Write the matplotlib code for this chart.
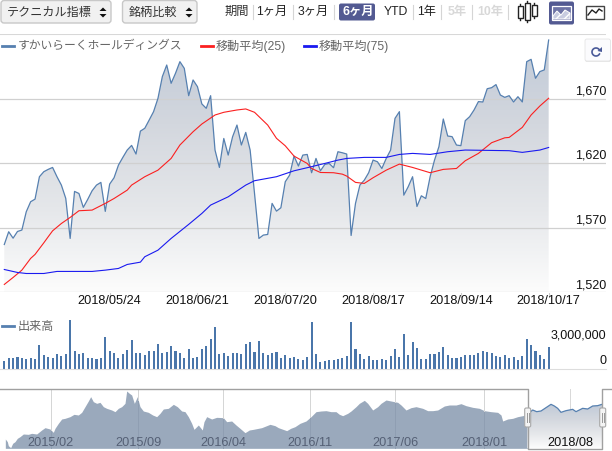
import numpy as np
import matplotlib
matplotlib.use('Agg')
import matplotlib.pyplot as plt
from matplotlib.patches import FancyBboxPatch, Polygon, Rectangle

plt.rcParams['font.family'] = ['Liberation Sans', 'Noto Sans CJK JP', 'DejaVu Sans']

W, H = 612, 451

# daily close
price = [1557.1, 1567, 1562, 1567.2, 1568.3, 1582.5, 1590.3, 1592.3, 1609.7, 1613.6,
         1615.4, 1616.9, 1609.7, 1603.2, 1592.9, 1561.8, 1598.3, 1596.7, 1585.9, 1592.1,
         1598.8, 1603.2, 1605.3, 1582.8, 1604, 1608.9, 1618.7, 1624.7, 1630.4, 1634,
         1627.3, 1645.1, 1647.3, 1653.7, 1660.2, 1670.5, 1687.4, 1696.4, 1682.2, 1690,
         1699, 1693.8, 1672.6, 1684.8, 1679.6, 1666.2, 1662.8, 1672.6, 1630.4, 1616.9,
         1639.4, 1626.5, 1640.7, 1649.8, 1634.3, 1644.1, 1630.4, 1596.7, 1561.8, 1564.4,
         1564.9, 1589, 1583, 1585.6, 1605.8, 1611, 1625.7, 1618, 1626.5,
         1627, 1612.8, 1623.9, 1614.3, 1619.2, 1620, 1616.7, 1629.1, 1628.3, 1627.3,
         1564.1, 1589, 1603.2, 1607, 1612.8, 1622.6, 1621.3, 1616.1, 1623.9, 1630.4,
         1655, 1660.2, 1595.4, 1601.9, 1609.7, 1586.6, 1594.9, 1592.8, 1609.7, 1622.6,
         1633, 1654.5, 1641.3, 1640.8, 1634.3, 1633.8, 1653.2, 1656.3, 1661.5, 1668,
         1667.7, 1678, 1678.8, 1681.2, 1673.1, 1671.3, 1672.6, 1667.7, 1671.8, 1667.7,
         1699, 1700.8, 1686.1, 1691.3, 1692.6, 1715.8]

ma25_idx = [0, 2, 4, 6, 7, 9, 10, 11, 13, 15, 17, 20, 23, 25, 28, 29, 32, 35, 38, 40, 43, 45, 48, 50,
            53, 55, 57, 60, 62, 64, 66, 69, 70, 72, 75, 77, 78, 80, 82, 84, 87, 90, 93, 97, 100, 103,
            105, 108, 111, 114, 115, 118, 120, 122, 124]
ma25 = [1526.1, 1531.5, 1537.2, 1546.3, 1549.4, 1558.4, 1563.1, 1567.7, 1573.4, 1578.1, 1583.3, 1583.8,
        1589, 1592.8, 1599.3, 1603.2, 1609.7, 1614.8, 1623.9, 1634.3, 1644.6, 1650.6, 1657.6, 1659.7,
        1661.5, 1662.3, 1659.7, 1649.8, 1639.5, 1633.7, 1625.7, 1620, 1616.1, 1613, 1612.8, 1611.7,
        1610.2, 1605.3, 1604.5, 1608.9, 1614.8, 1619.5, 1616.9, 1612.8, 1615.4, 1616.1,
        1622.1, 1627.8, 1636.1, 1639.9, 1640.2, 1648, 1657.6, 1664.6, 1670.6]

ma75_idx = [0, 3, 5, 9, 12, 20, 23, 26, 28, 31, 32, 35, 38, 42, 45, 47, 51, 55, 57, 62, 66, 69,
            73, 76, 78, 82, 87, 90, 93, 97, 101, 105, 115, 118, 122, 124]
ma75 = [1537.7, 1535.4, 1534.6, 1534.6, 1536.2, 1536.2, 1537.2, 1538.5, 1541.6, 1543.4, 1547.6, 1552.7,
        1561.8, 1572.7, 1581.2, 1587.7, 1594.1, 1603.2, 1606.6, 1609.7, 1614.3, 1616.7,
        1620, 1622.6, 1623.9, 1624.7, 1624.7, 1627, 1627.8, 1627, 1629.1, 1630.4, 1629.9, 1628.6, 1630.4, 1632.4]

# volume in thousands of shares
volume = [900, 1240, 1240, 1350, 1200, 1125, 1240, 1125, 2700, 1575,
          1350, 1240, 1690, 1460, 1690, 5510, 2025, 1690, 1800, 1240,
          1240, 1125, 1240, 3600, 2025, 1800, 1240, 1690, 2140, 3260,
          1800, 1800, 1575, 2025, 2025, 2810, 1800, 1910, 2590, 2025,
          1800, 1240, 2250, 1240, 1350, 2250, 2590, 3375, 4725, 1690,
          1800, 1460, 1800, 1800, 1690, 2810, 3040, 1910, 3150, 1800,
          1575, 1800, 1910, 1240, 1575, 1240, 1350, 1125, 1010,
          1350, 5290, 1690, 790, 900, 1010, 1010, 1125, 1240, 1460,
          5290, 2250, 1690, 1125, 1460, 1010, 1010, 1125, 1010, 1460,
          2250, 1350, 3940, 1575, 3040, 2360, 1125, 1125, 1690, 1690,
          1910, 2475, 1575, 1240, 1240, 1350, 1575, 1575, 1575, 1800,
          2025, 1910, 1800, 1460, 1350, 1575, 1240, 1350, 1010, 1460,
          3375, 2700, 2025, 1575, 1125, 2475]

date_labels = ['2018/05/24', '2018/06/21', '2018/07/20', '2018/08/17', '2018/09/14', '2018/10/17']
date_idx = [24, 44, 64, 84, 104, 124]
price_ticks = [1520, 1570, 1620, 1670]

# long history for the navigator, sample position and height
nav_pos = [16, 22, 25, 32, 38, 45, 52, 60, 70, 85, 95, 110, 125, 135, 150, 160, 165, 175, 185, 195, 210, 222,
           235, 245, 255, 265, 272, 280, 290, 300, 310, 320, 335, 345, 355, 365, 375, 380, 388, 395, 403, 412,
           420, 430, 445, 458, 470, 480, 490, 505, 520, 532, 545, 555, 565, 575, 582, 595, 607, 612, 620, 635,
           650, 670, 680, 695, 708, 720, 735, 748, 760, 785, 810, 825, 835, 860, 872, 885, 900, 918,
           933, 948, 963, 978, 993, 1008, 1018, 1028, 1043, 1053, 1068, 1078, 1093, 1103, 1118, 1133, 1143,
           1158, 1173, 1193, 1203, 1218, 1233, 1248, 1268, 1283, 1298, 1313, 1333, 1348, 1368, 1383, 1398,
           1418, 1438, 1453, 1473, 1493, 1503, 1508, 1523, 1538, 1553, 1568, 1582,
           1598, 1610, 1623, 1638, 1653, 1663, 1673, 1683, 1698, 1718, 1728, 1748, 1763, 1778, 1793, 1806]
nav_val = [28, 20, 8, 2, 15, 20, 30, 35, 43, 42, 45, 43, 55, 62, 58, 48, 60, 75, 88, 90, 95, 102,
           100, 108, 125, 142, 155, 140, 135, 138, 125, 120, 115, 110, 120, 125, 135, 172, 165, 160, 135, 155,
           125, 112, 108, 100, 95, 105, 118, 120, 132, 125, 112, 110, 95, 75, 57, 70, 55, 80, 95, 88,
           93, 92, 80, 82, 70, 60, 47, 55, 57, 62, 72, 68, 62, 53, 60, 65, 75, 82,
           95, 110, 112, 113, 110, 110, 102, 98, 105, 112, 125, 135, 144, 135, 115, 125, 135,
           145, 142, 138, 130, 115, 122, 125, 120, 113, 113, 115, 127, 130, 130, 134, 128,
           123, 120, 113, 110, 108, 100, 82, 88, 90, 95, 98, 102,
           115, 110, 112, 122, 132, 127, 120, 108, 113, 117, 110, 120, 118, 127, 128, 132]
nav_labels = ['2015/02', '2015/09', '2016/04', '2016/11', '2017/06', '2018/01', '2018/08']
nav_tick_pos = [152, 415, 670, 931, 1186, 1453, 1711]


def px_axes(x0, y0, x1, y1):
    return fig.add_axes([x0 / W, 1 - y1 / H, (x1 - x0) / W, (y1 - y0) / H])


fig = plt.figure(figsize=(W / 100, H / 100), dpi=100)
BLUE = '#5680b0'

# page level furniture, in pixels
bg = fig.add_axes([0, 0, 1, 1], zorder=5)
bg.set_xlim(0, W)
bg.set_ylim(H, 0)
bg.axis('off')
bg.patch.set_alpha(0)

# main chart
step = 4.39
xlim = (-4.3 / step, (606 - 4.3) / step)
ylim = (1520, 1670 + (99 - 34) * 50 / 64.4)
ax = px_axes(0, 34, 606, 292.3)
ax.patch.set_alpha(0)
for s in ax.spines.values():
    s.set_visible(False)
x = np.arange(len(price))
grad = np.linspace(0, 1, 200).reshape(-1, 1)
cmap = matplotlib.colors.LinearSegmentedColormap.from_list('g', ['#fcfcfc', '#e5e7ea', '#d3d7de', '#c0cad8'])
im = ax.imshow(grad, origin='lower', aspect='auto', cmap=cmap, extent=[0, x[-1], 1520, max(price)], zorder=1)
poly = Polygon(list(zip(x, price)) + [(x[-1], 1520), (0, 1520)], transform=ax.transData, fc='none', ec='none')
ax.add_patch(poly)
im.set_clip_path(poly)
ax.set_xlim(*xlim)
ax.set_ylim(*ylim)
ax.set_yticks([])
ax.set_xticks([])
for t in price_ticks:
    ax.axhline(t, color='#d0d0d0', lw=0.9, zorder=2)
ax.axhline(ylim[1], color='#d8d8d8', lw=1.5, zorder=2)
ax.plot(x, price, color=BLUE, lw=0.9, zorder=3)
ax.plot(ma25_idx, ma25, color='#fb2020', lw=0.8, zorder=4)
ax.plot(ma75_idx, ma75, color='#1a1af0', lw=0.8, zorder=5)

for t, py in zip(price_ticks, [285, 220.7, 156, 91.7]):
    bg.text(606, py, f'{t:,}', ha='right', va='center', fontsize=9, color='#111111')

for i, lab in zip(date_idx, date_labels):
    px = 4.3 + i * step
    bg.plot([px, px], [292.5, 297], color='#cccccc', lw=0.8)
    bg.text(px, 300.7, lab, ha='center', va='center', fontsize=9.2, color='#111111')

# volume
vx = px_axes(0, 315, 606, 369)
vx.set_xlim(*xlim)
vx.set_ylim(0, 54 / 26.5 * 3000)
vx.bar(x, volume, width=0.47, color='#4a76aa')
vx.patch.set_alpha(0)
for k, s in vx.spines.items():
    s.set_visible(k == 'bottom')
vx.spines['bottom'].set_color('#dddddd')
vx.set_xticks([])
vx.set_yticks([])
bg.text(606, 335, '3,000,000', ha='right', va='center', fontsize=9, color='#111111')
bg.text(606, 361.5, '0', ha='right', va='center', fontsize=9, color='#111111')

# navigator
SEL0, SEL1 = 1582, 1806
nx = px_axes(0, 389, 612, 449)
nav_pos_a = np.array(nav_pos)
nav_val_a = np.array(nav_val)
m = nav_pos_a <= SEL0
nx.fill_between(nav_pos_a[m], 0, nav_val_a[m], color='#9aa9bc', lw=0)
m2 = nav_pos_a >= SEL0
im2 = nx.imshow(grad, origin='lower', aspect='auto', cmap=cmap, extent=[SEL0, SEL1, 0, 132], zorder=1)
poly2 = Polygon(list(zip(nav_pos_a[m2], nav_val_a[m2])) + [(SEL1, 0), (SEL0, 0)], transform=nx.transData,
                fc='none', ec='none')
nx.add_patch(poly2)
im2.set_clip_path(poly2)
nx.set_xlim(0, 1836)
nx.set_ylim(-2, 178)
nx.axis('off')
nx.plot(nav_pos_a[m2], nav_val_a[m2], color=BLUE, lw=0.9, zorder=2)
for p in nav_tick_pos:
    nx.axvline(p, color='#8f9eb2' if p < SEL0 else '#d8d8d8', lw=0.7, zorder=0.5 if p > SEL0 else 1.5)
    if p < 1500:
        nx.plot([p, p], [max(np.interp(p, nav_pos_a, nav_val_a), 0), 178], color='#d8d8d8', lw=0.7, zorder=1.6)
for p, lab in zip(nav_tick_pos, nav_labels):
    nx.text(p, 15, lab, ha='center', va='center', fontsize=9.2,
            color='#111111' if p > SEL0 else '#556075', zorder=3)

# navigator frame
bg.plot([0, 527.7, 527.7, 602, 602, 612], [388.7, 388.7, 449, 449, 388.7, 388.7], color='#a0a0a0', lw=1)
for hx in (527.7, 602.7):
    bg.add_patch(FancyBboxPatch((hx - 3, 408), 6, 19, boxstyle='round,pad=0,rounding_size=1.5', fc='#f4f4f4',
                                ec='#a8a8a8', lw=0.8, zorder=6))
    bg.plot([hx - 1, hx - 1], [413, 422], color='#999999', lw=0.7, zorder=7)
    bg.plot([hx + 1, hx + 1], [413, 422], color='#999999', lw=0.7, zorder=7)

# legends
GR = '#666666'
bg.plot([2, 14], [46, 46], color=BLUE, lw=2)
bg.text(18, 46, 'すかいらーくホールディングス', va='center', fontsize=8.5, color=GR)
bg.plot([201, 213], [46, 46], color='#fb2020', lw=2)
bg.text(216, 46, '移動平均(25)', va='center', fontsize=8.7, color=GR)
bg.plot([304, 316], [46, 46], color='#1a1af0', lw=2)
bg.text(319, 46, '移動平均(75)', va='center', fontsize=8.7, color=GR)
bg.plot([2, 14], [326, 326], color=BLUE, lw=2)
bg.text(18, 327, '出来高', va='center', fontsize=8.7, color=GR)


# top buttons
def select_btn(x0, x1, label):
    bg.add_patch(FancyBboxPatch((x0, 0.5), x1 - x0, 22.5, boxstyle='round,pad=0,rounding_size=3', fc='#f1f1f1',
                                ec='#c8c8c8', lw=1))
    bg.text(x0 + 6, 12.5, label, va='center', fontsize=8.7, color='#333333')
    c = x1 - 8
    bg.add_patch(Polygon([(c - 3.5, 11), (c + 3.5, 11), (c, 7.5)], fc='#111111', ec='none'))
    bg.add_patch(Polygon([(c - 3.5, 14), (c + 3.5, 14), (c, 17.5)], fc='#111111', ec='none'))


select_btn(1, 111, 'テクニカル指標')
select_btn(122.5, 197, '銘柄比較')

period_labels = ['期間', '1ヶ月', '3ヶ月', '6ヶ月', 'YTD', '1年', '5年', '10年']
period_x = [236.5, 272, 313, 358, 396, 427, 457, 490]
period_col = ['#333333', '#222222', '#222222', 'white', '#222222', '#222222', '#d8d8d8', '#d8d8d8']
sep_x = [253, 293, 334, 413, 441, 472, 508]
bg.add_patch(FancyBboxPatch((339, 3.5), 36, 17, boxstyle='round,pad=0,rounding_size=2', fc='#535a92', ec='none'))
for lab, px, col in zip(period_labels, period_x, period_col):
    bg.text(px, 12, lab, ha='center', va='center', fontsize=8.8, color=col,
            fontweight='bold' if col in ('white', '#d8d8d8') else 'normal')
for sx in sep_x:
    bg.plot([sx, sx], [5, 19], color='#d5d5d5', lw=0.8)

# chart type icons
for cx, y0, y1 in [(520, 6, 18), (527, 3, 20), (534, 5, 16)]:
    bg.plot([cx, cx], [y0 - 2, y1 + 2], color='#222222', lw=1)
    bg.add_patch(Rectangle((cx - 2.5, y0), 5, y1 - y0, fc='white', ec='#222222', lw=1, zorder=3))
bg.add_patch(FancyBboxPatch((549, 1.5), 25, 23, boxstyle='round,pad=0,rounding_size=2', fc='#535a92', ec='none'))
bg.add_patch(Rectangle((552, 6), 19, 14, fc='#6d73a5', ec='white', lw=0.9))
bg.add_patch(Polygon([(553, 19), (553, 16), (557, 11), (561, 15), (565, 10), (570, 13), (570, 19)], fc='#c8cce0',
                     ec='white', lw=0.7, hatch='////'))
bg.add_patch(Rectangle((586, 6), 17.5, 12.5, fc='white', ec='#444444', lw=1))
bg.plot([588, 592, 596, 599, 602], [15, 10, 13, 9, 11], color='#222222', lw=1)

# refresh button
bg.add_patch(FancyBboxPatch((585, 40), 26, 22, boxstyle='round,pad=0,rounding_size=2', fc='#dddddd', ec='none',
                            alpha=0.7, zorder=7))
bg.add_patch(FancyBboxPatch((585, 39), 25.5, 22, boxstyle='round,pad=0,rounding_size=2', fc='#fbfbfd',
                            ec='#e5e5e5', lw=0.6, zorder=8))
theta = np.radians(np.linspace(40, 330, 40))
bg.plot(596 + 4 * np.cos(theta), 52 - 4 * np.sin(theta), color='#4a5a99', lw=1.2, zorder=9)
bg.add_patch(Polygon([(602, 47), (602, 52), (597.5, 51)], fc='#4a5a99', ec='none', zorder=9))

fig.savefig('out.png', dpi=100)
